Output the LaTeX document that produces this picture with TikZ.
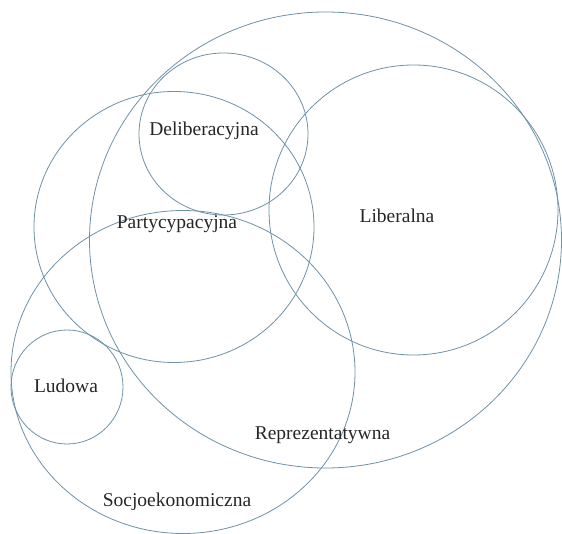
\documentclass[tikz,border=0pt]{standalone}
\usepackage{fontspec}
\setmainfont{Liberation Serif}
\definecolor{ringcol}{HTML}{6F91A6}
\begin{document}
\begin{tikzpicture}[x=1pt,y=-1pt,
  ring/.style={draw=ringcol,line width=0.8pt},
  lbl/.style={font=\fontsize{19.5}{23}\selectfont,text=black!85,inner sep=0pt,anchor=base}]
\useasboundingbox (0,0) rectangle (562,534);
% Reprezentatywna
\draw[ring] (325.5,240) ellipse [x radius=236,y radius=228];
% Liberalna
\draw[ring] (413.5,210) ellipse [x radius=144.5,y radius=145];
% Deliberacyjna
\draw[ring] (223.5,134) ellipse [x radius=84.5,y radius=81];
% Partycypacyjna
\draw[ring] (174,227) ellipse [x radius=140,y radius=135.5];
% Socjoekonomiczna
\draw[ring] (183,372) ellipse [x radius=172,y radius=161.5];
% Ludowa
\draw[ring] (67,387) ellipse [x radius=56,y radius=57];
\node[lbl] (del) at (204,136) {Deliberacyjna};
\node[lbl] (par) at (177,229) {Partycypacyjna};
\node[lbl] (lib) at (397,223) {Liberalna};
\node[lbl] (lud) at (66,392) {Ludowa};
\node[lbl] (rep) at (322.5,439) {Reprezentatywna};
\node[lbl] (soc) at (177,506) {Socjoekonomiczna};
\end{tikzpicture}
\end{document}
